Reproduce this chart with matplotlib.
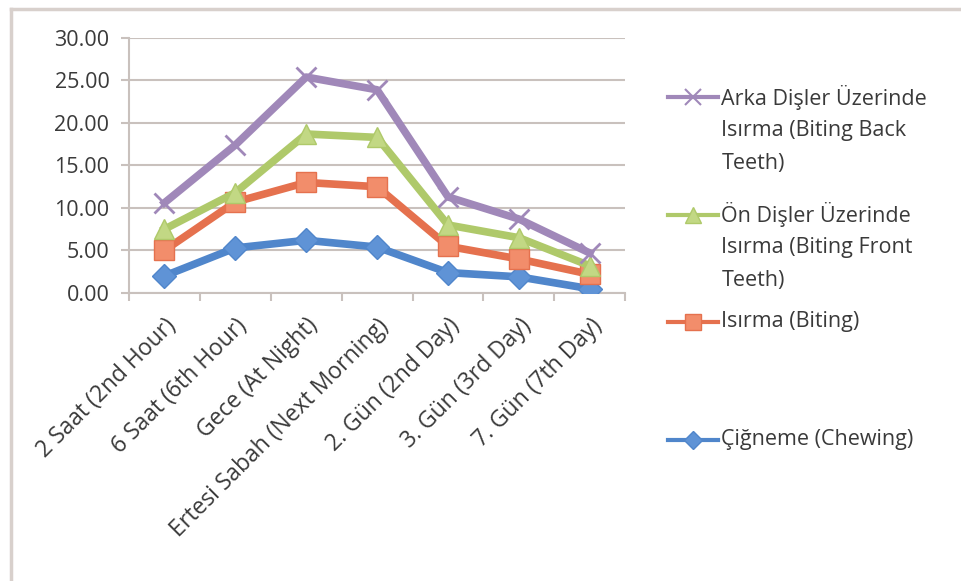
import matplotlib.pyplot as plt
import matplotlib.transforms as mtransforms
from matplotlib.lines import Line2D

plt.rcParams['font.family'] = ['Open Sans', 'DejaVu Sans']

categories = ["2 Saat (2nd Hour)", "6 Saat (6th Hour)", "Gece (At Night)",
              "Ertesi Sabah (Next Morning)", "2. Gün (2nd Day)",
              "3. Gün (3rd Day)", "7. Gün (7th Day)"]

chewing = [2.0, 5.3, 6.2, 5.4, 2.4, 1.9, 0.5]
biting = [5.0, 10.7, 13.0, 12.5, 5.5, 4.0, 2.2]
front_teeth = [7.5, 11.8, 18.7, 18.3, 8.0, 6.5, 3.2]
back_teeth = [10.6, 17.4, 25.4, 23.9, 11.3, 8.7, 4.7]

series = [
    (["Arka Dişler Üzerinde", "Isırma (Biting Back", "Teeth)"], back_teeth,
     "#a088b9", "x", 15, "#a088b9"),
    (["Ön Dişler Üzerinde", "Isırma (Biting Front", "Teeth)"], front_teeth,
     "#afc96a", "^", 15, "#c2d884"),
    (["Isırma (Biting)"], biting, "#e5714e", "s", 15, "#f28d6b"),
    (["Çiğneme (Chewing)"], chewing, "#5086cb", "D", 12, "#5f93d6"),
]

grid_col = "#c9c1bd"
text_col = "#3a3a3a"

fig = plt.figure(figsize=(9.62, 5.81), dpi=100)
ax = fig.add_axes([0.134, 0.4957, 0.516, 0.439])

x = list(range(len(categories)))
# draw bottom series last so blue sits on top like the original
for name, vals, col, mk, ms, fc in reversed(series):
    ax.plot(x, vals, color=col, lw=5.5, marker=mk, markersize=ms,
            markerfacecolor=fc, markeredgecolor=col,
            mew=2 if mk == "x" else 1, solid_joinstyle="round", zorder=3)

ax.set_xlim(-0.5, len(categories) - 0.5)
ax.set_ylim(0, 30)
ax.set_yticks([0, 5, 10, 15, 20, 25, 30])
ax.set_yticklabels([f"{v:.2f}" for v in [0, 5, 10, 15, 20, 25, 30]])
ax.yaxis.grid(True, color=grid_col, lw=1.5)
ax.set_axisbelow(True)

ax.set_xticks([i - 0.5 for i in range(len(categories) + 1)])
ax.set_xticklabels([])
ax.set_xticks(x, minor=True)
ax.set_xticklabels(categories, minor=True, rotation=45, ha="right", va="top",
                   rotation_mode="anchor", fontsize=16.5, color=text_col)
shift = mtransforms.ScaledTranslation(5 / 100, 0, fig.dpi_scale_trans)
for lab in ax.get_xticklabels(minor=True):
    lab.set_transform(lab.get_transform() + shift)
ax.tick_params(axis="x", which="minor", length=0, pad=15)
ax.tick_params(axis="x", which="major", length=6, color=grid_col, width=1.5)
ax.tick_params(axis="y", length=6, color=grid_col, width=1.5, labelsize=15.5,
               labelcolor=text_col, pad=8)

for s in ["top", "right"]:
    ax.spines[s].set_visible(False)
for s in ["left", "bottom"]:
    ax.spines[s].set_color(grid_col)
    ax.spines[s].set_linewidth(1.5)

# legend drawn by hand to follow the original spacing
legend_y = [0.833, 0.630, 0.446, 0.243]
line_step = 33 / 581
for (name, vals, col, mk, ms, fc), ly in zip(series, legend_y):
    fig.add_artist(Line2D([0.694, 0.746], [ly, ly], transform=fig.transFigure,
                          color=col, lw=3))
    fig.add_artist(Line2D([0.720], [ly], transform=fig.transFigure, color=col,
                          marker=mk, markersize=ms * 0.8, markerfacecolor=fc,
                          markeredgecolor=col, mew=1.5 if mk == "x" else 1))
    for i, part in enumerate(name):
        fig.text(0.750, ly - i * line_step, part, fontsize=15.5, color=text_col,
                 ha="left", va="center")

# outer chart frame
fig.add_artist(Line2D([0.0115, 0.0115], [0, 0.985], transform=fig.transFigure,
                      color="#d8d0cc", lw=2.5))
fig.add_artist(Line2D([0.0115, 1.0], [0.985, 0.985], transform=fig.transFigure,
                      color="#d8d0cc", lw=2.5))

fig.savefig("out.png", dpi=100, facecolor="white")
